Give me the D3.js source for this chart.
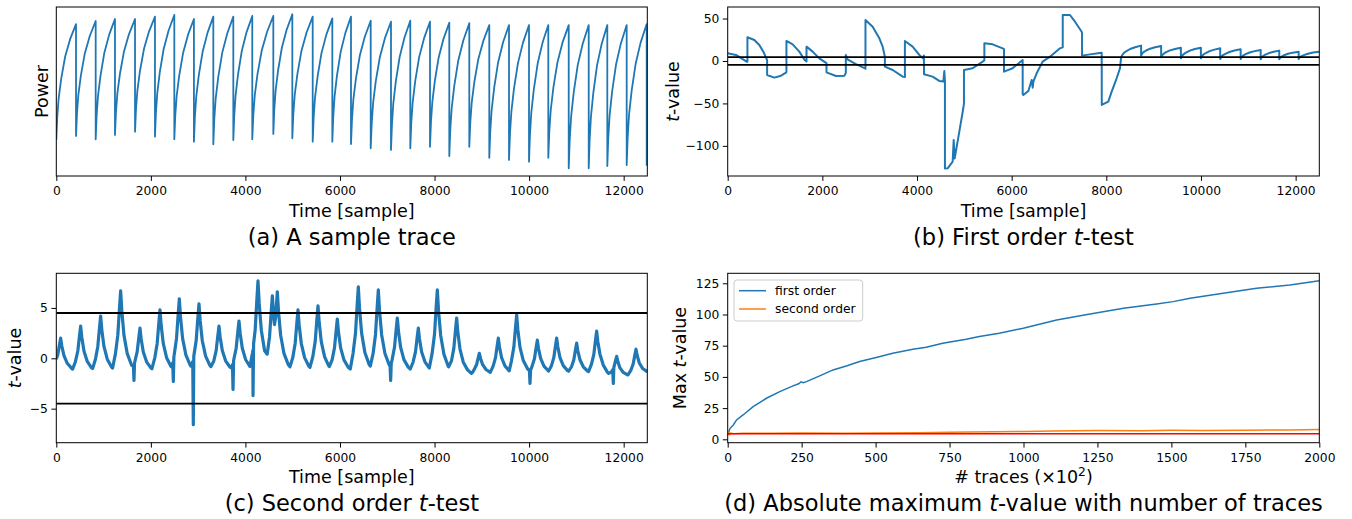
<!DOCTYPE html>
<html>
<head>
<meta charset="utf-8">
<script src="https://cdn.jsdelivr.net/npm/d3@7"></script>
<style>
  body { margin: 0; background: #fff; }
  svg { display: block; font-family: 'DejaVu Sans', sans-serif; }
</style>
</head>
<body>
<svg id="fig" width="1352" height="519"></svg>
<script>
const blue = '#1f77b4'
const orange = '#ff7f0e'

// (a) sample trace: drop times, value just before each drop, value just after
const traceStart = 21.3
const traceDrops = [417, 833, 1241, 1665, 2087, 2496, 2911, 3321, 3744, 4145, 4590, 4992, 5423, 5838, 6233,
  6650, 7079, 7487, 7904, 8312, 8735, 9158, 9575, 9998, 10406, 10838, 11261, 11654, 12064, 12487]
const tracePeaks = [89.9, 91.7, 92.9, 92.9, 94.3, 95.3, 92.9, 94.3, 94.3, 94.7, 94.7, 95.7, 94.3, 93.3, 94.3,
  91.9, 91.3, 91.9, 91.3, 90.7, 90.4, 89.3, 89.3, 89.3, 89.3, 89.3, 89.3, 89.3, 89.3, 89.9]
const traceTroughs = [23.7, 21.7, 24.3, 26.2, 23.3, 21.7, 20.3, 18.8, 21.3, 21.7, 24.9, 22.3, 20.3, 20.3, 18.9,
  16.4, 15.4, 16.4, 17.3, 11.8, 17.3, 10.8, 9.5, 8.5, 10.8, 4.6, 4.6, 5.9, 6.5, 6.1]
const riseFrac = [0, 0.05, 0.12, 0.25, 0.45, 0.7, 1]
const riseLevel = [0, 0.2, 0.36, 0.53, 0.72, 0.87, 1]

// (b) first order t-test
const firstOrderPts = [
  [0, 9], [175, 7.1], [400, -0.8], [417, -1], [417, 27.9], [563, 24.7], [668, 18.8], [753, 11], [810, 3.9],
  [833, 1], [833, -16.5], [985, -19.6], [1126, -17.3], [1232, -13.7], [1241, -13], [1241, 23.6], [1373, 19.6],
  [1513, 11], [1626, 1.2], [1665, -0.5], [1665, 16.9], [1795, 11], [1936, 3.1], [2063, -1.6], [2087, -2.5],
  [2087, -13.4], [2288, -17.7], [2464, -17.3], [2496, -14], [2496, 7.1], [2530, 2], [2700, -3.5], [2900, -8.6],
  [2911, -9], [2911, 48.3], [3063, 40.4], [3204, 26.7], [3274, 16.9], [3321, 5], [3321, -6.7], [3486, -10.6],
  [3698, -18.4], [3744, -19], [3744, 23.6], [3907, 16.9], [4048, 7.1], [4140, 2.5], [4145, 6.5], [4148, -15.7],
  [4330, -18.4], [4471, -23.5], [4556, -24.3], [4577, -11.8], [4590, -24], [4590, -126.6], [4647, -126.4],
  [4753, -118.5], [4775, -93], [4795, -115], [4894, -83.2], [4978, -55.7], [4992, -50], [4992, -10.6],
  [5175, -8.6], [5387, -0.8], [5423, 1], [5423, 20.8], [5598, 19.6], [5810, 14.9], [5838, 14], [5838, -12.6],
  [6020, -8.6], [6232, 1.2], [6233, -39.3], [6247, -40], [6352, -35.3], [6423, -22.4], [6444, -31.4],
  [6460, -24], [6528, -14.5], [6655, -0.8], [6810, 5.1], [7021, 14.9], [7079, 16], [7079, 54.2], [7232, 54.2],
  [7338, 46.3], [7479, 34.5], [7487, 33], [7487, 6.3], [7655, 7.8], [7902, 9.8], [7904, -51.8], [8042, -47.9],
  [8113, -36.1], [8218, -20.4], [8289, -8.6], [8312, 3.9]
]
const sawDropsB = [8735, 9158, 9575, 9998, 10406, 10838, 11261, 11654, 12064, 12500]
const sawPeaksB = [18.1, 17.7, 15.7, 15.7, 14.9, 13.8, 13.0, 12.2, 11.0, 11.0]
const sawTroughsB = [6.3, 4.3, 3.1, 3.1, 2.4, 2.4, 2.0, 2.0, 2.4]

// (c) second order t-test
const secondBaseT = [0, 400, 2000, 4000, 6000, 8000, 8600, 10000, 11500, 11850, 12500]
const secondBaseV = [-1.0, -1.3, -1.3, -1.2, -1.3, -1.3, -1.6, -1.5, -1.5, -2.0, -1.5]
const secondPeakT = [92, 515, 938, 1361, 1770, 2193, 2602, 3018, 3441, 3864, 4266, 4570, 4675, 5112, 5535, 5944,
  6388, 6811, 7213, 7657, 8059, 8468, 8948, 9349, 9737, 10174, 10583, 11006, 11429, 11852, 12261]
const secondPeakV = [2.0, 3.2, 4.2, 6.7, 3.0, 4.8, 5.9, 5.4, 3.2, 3.7, 7.7, 6.2, 6.6, 4.8, 5.2, 3.9,
  7.1, 6.8, 4.0, 3.0, 6.8, 4.0, 0.5, 2.0, 4.3, 1.8, 2.0, 1.5, 2.7, 0.2, 0.9]
const secondDipT = [1643, 2475, 2898, 3738, 4161, 7072, 10019, 11781]
const secondDipV = [-2.2, -2.3, -6.6, -3.1, -3.7, -2.2, -2.5, -2.5]
// shape of one bump (samples from peak -> fraction of height)
const peakDt = [-170, -110, -60, -25, 0, 25, 70, 140, 230, 330]
const peakLevel = [0, 0.22, 0.45, 0.78, 1, 0.75, 0.45, 0.22, 0.08, 0]
const threshold = 4.5

// (d) max t-value vs number of traces
const maxFirstT = [0, 2, 8, 19, 30, 52, 86, 131, 176, 221, 240, 248, 255, 266, 311, 356, 401, 446, 502, 558, 626,
  671, 727, 806, 851, 918, 999, 1112, 1225, 1338, 1450, 1506, 1563, 1675, 1788, 1901, 2000]
const maxFirstV = [3.5, 4.8, 8.8, 11.5, 15.5, 19.5, 26.2, 32.9, 38.2, 42.8, 44.5, 46, 45.3, 46.2, 50.8, 55.6, 58.8,
  62.3, 65.5, 68.9, 72.1, 73.7, 76.9, 80.1, 82.3, 84.9, 89.0, 95.6, 100.4, 105.0, 108.4, 110.3, 113, 117, 121,
  123.6, 127.1]
const maxSecondT = [0, 3, 6, 10, 20, 50, 150, 250, 400, 500, 650, 750, 900, 1000, 1100, 1250, 1400, 1500, 1600,
  1750, 1900, 2000]
const maxSecondV = [3.2, 5.5, 3.8, 4.9, 4.4, 4.8, 4.9, 5.0, 4.9, 5.0, 5.2, 5.6, 6.0, 6.3, 6.6, 7.0, 6.9, 7.2, 7.0,
  7.3, 7.5, 7.8]

const svg = d3.select('#fig')
const minus = d => d < 0 ? '\u2212' + Math.abs(d) : String(d)

function panel(id, x, y, xTicks, yTicks) {
  const [x0, x1] = x.range()
  const [y0, y1] = [y.range()[1], y.range()[0]]
  const g = svg.append('g').attr('id', id)

  g.append('clipPath').attr('id', 'clip-' + id)
    .append('rect')
    .attr('x', x0).attr('y', y0)
    .attr('width', x1 - x0).attr('height', y1 - y0)

  const xAxis = g.append('g')
    .attr('transform', `translate(0,${y1})`)
    .call(d3.axisBottom(x).tickValues(xTicks).tickFormat(minus).tickSize(4.9).tickPadding(5.4).tickSizeOuter(0))
  xAxis.select('.domain').remove()

  if (yTicks) {
    const yAxis = g.append('g')
      .attr('transform', `translate(${x0},0)`)
      .call(d3.axisLeft(y).tickValues(yTicks).tickFormat(minus).tickSize(4.9).tickPadding(3.5).tickSizeOuter(0))
    yAxis.select('.domain').remove()
  }
  g.selectAll('.tick text').style('font-size', '12.3px').style('font-family', 'DejaVu Sans').attr('fill', '#000')
  g.selectAll('.tick line').attr('stroke', '#000').attr('stroke-width', 1)

  const plot = g.append('g').attr('clip-path', `url(#clip-${id})`)
  return { g, plot, x0, x1, y0, y1 }
}

function frame(p) {
  p.g.append('rect')
    .attr('x', p.x0).attr('y', p.y0)
    .attr('width', p.x1 - p.x0).attr('height', p.y1 - p.y0)
    .attr('fill', 'none').attr('stroke', '#000').attr('stroke-width', 1)
}

function label(text, x, y, size, rotate) {
  const t = svg.append('text')
    .attr('text-anchor', 'middle')
    .attr('transform', rotate ? `translate(${x},${y}) rotate(-90)` : `translate(${x},${y})`)
    .style('font-size', size + 'px')
    .attr('fill', '#000')
  text.forEach(part => {
    const s = t.append('tspan').text(part.t)
    if (part.i) s.style('font-style', 'italic')
    if (part.sup) s.attr('baseline-shift', 'super').style('font-size', (size * 0.7) + 'px')
  })
  return t
}

function risePoints(pts, t0, v0, t1, v1) {
  riseFrac.forEach((f, k) => pts.push([t0 + f * (t1 - t0), v0 + riseLevel[k] * (v1 - v0)]))
}

// ---------- (a) ----------
const xA = d3.scaleLinear([0, 12500], [56.3, 647.3])
const yA = d3.scaleLinear([0, 100], [176, 7])
const pA = panel('a', xA, yA, d3.range(0, 12001, 2000), null)
const tracePts = []
let t0 = 0, v0 = traceStart
traceDrops.forEach((td, i) => {
  risePoints(tracePts, t0, v0, td, tracePeaks[i])
  tracePts.push([td, traceTroughs[i]])
  t0 = td
  v0 = traceTroughs[i]
})
pA.plot.append('path')
  .datum(tracePts)
  .attr('d', d3.line().x(d => xA(d[0])).y(d => yA(d[1])))
  .attr('fill', 'none').attr('stroke', blue).attr('stroke-width', 1.8).attr('stroke-linejoin', 'round')
frame(pA)

// ---------- (b) ----------
const xB = d3.scaleLinear([0, 12500], [727.7, 1319.3])
const yB = d3.scaleLinear([-135.5, 63.6], [176, 7])
const pB = panel('b', xB, yB, d3.range(0, 12001, 2000), [50, 0, -50, -100])
const firstPts = firstOrderPts.slice()
let tb = 8312, vb = 3.9
sawDropsB.forEach((td, i) => {
  risePoints(firstPts, tb, vb, td, sawPeaksB[i])
  if (i < sawTroughsB.length) {
    firstPts.push([td, sawTroughsB[i]])
    tb = td
    vb = sawTroughsB[i]
  }
})
pB.plot.append('path')
  .datum(firstPts)
  .attr('d', d3.line().x(d => xB(d[0])).y(d => yB(d[1])))
  .attr('fill', 'none').attr('stroke', blue).attr('stroke-width', 2).attr('stroke-linejoin', 'round')
pB.plot.selectAll('.thr')
  .data([threshold, -threshold])
  .enter()
  .append('line')
  .attr('x1', pB.x0).attr('x2', pB.x1)
  .attr('y1', d => yB(d)).attr('y2', d => yB(d))
  .attr('stroke', '#000').attr('stroke-width', 1.8)
frame(pB)

// ---------- (c) ----------
const xC = d3.scaleLinear([0, 12500], [56.3, 647.3])
const yC = d3.scaleLinear([-8.38, 8.44], [442.7, 273.3])
const pC = panel('c', xC, yC, d3.range(0, 12001, 2000), [5, 0, -5])
const base = d3.scaleLinear(secondBaseT, secondBaseV)
const shape = d3.scaleLinear(peakDt, peakLevel).clamp(true)
let gridT = secondBaseT.slice()
secondPeakT.forEach(tp => peakDt.forEach(dt => gridT.push(tp + dt)))
secondDipT.forEach(td => gridT.push(td - 12, td + 12))
gridT = Array.from(new Set(gridT.filter(t => t >= 0 && t <= 12500))).sort((a, b) => a - b)
const secondPts = gridT.map(t => {
  const b = base(t)
  const bump = d3.max(secondPeakT, (tp, i) => shape(t - tp) * (secondPeakV[i] - base(tp)))
  return [t, b + Math.max(0, bump)]
})
secondDipT.forEach((td, i) => secondPts.push([td, secondDipV[i]]))
secondPts.sort((a, b) => a[0] - b[0])
pC.plot.append('path')
  .datum(secondPts)
  .attr('d', d3.line().x(d => xC(d[0])).y(d => yC(d[1])))
  .attr('fill', 'none').attr('stroke', blue).attr('stroke-width', 3.2).attr('stroke-linejoin', 'round')
pC.plot.selectAll('.thr')
  .data([threshold, -threshold])
  .enter()
  .append('line')
  .attr('x1', pC.x0).attr('x2', pC.x1)
  .attr('y1', d => yC(d)).attr('y2', d => yC(d))
  .attr('stroke', '#000').attr('stroke-width', 1.8)
frame(pC)

// ---------- (d) ----------
const xD = d3.scaleLinear([0, 2000], [727.7, 1319.3])
const yD = d3.scaleLinear([-2.72, 133], [442.7, 273.3])
const pD = panel('d', xD, yD, d3.range(0, 2001, 250), d3.range(0, 126, 25))
const lineD = d3.line().x(d => xD(d[0])).y(d => yD(d[1]))
pD.plot.append('path')
  .datum(d3.zip(maxFirstT, maxFirstV))
  .attr('d', lineD)
  .attr('fill', 'none').attr('stroke', blue).attr('stroke-width', 1.5)
pD.plot.append('path')
  .datum(d3.zip(maxSecondT, maxSecondV))
  .attr('d', lineD)
  .attr('fill', 'none').attr('stroke', orange).attr('stroke-width', 1.5)
pD.plot.append('path')
  .datum([[0, threshold], [2000, threshold]])
  .attr('d', lineD)
  .attr('fill', 'none').attr('stroke', 'red').attr('stroke-width', 1.5)
frame(pD)

// legend
const legend = svg.append('g').attr('id', 'legend')
legend.append('rect')
  .attr('x', 734).attr('y', 280).attr('width', 128.7).attr('height', 41).attr('rx', 3)
  .attr('fill', '#fff').attr('fill-opacity', 0.8).attr('stroke', '#ccc').attr('stroke-width', 1)
const legendItems = legend.selectAll('.item')
  .data([['first order', blue], ['second order', orange]])
  .enter()
  .append('g')
  .attr('transform', (d, i) => `translate(739,${290.7 + i * 18.3})`)
legendItems.append('line')
  .attr('x1', 0).attr('x2', 27).attr('stroke', d => d[1]).attr('stroke-width', 1.5)
legendItems.append('text')
  .text(d => d[0])
  .attr('x', 36).attr('y', 4.4)
  .style('font-size', '12.3px').attr('fill', '#000')

// axis labels
const cA = (56.3 + 647.3) / 2
const cB = (727.7 + 1319.3) / 2
label([{ t: 'Time [sample]' }], cA, 216.7, 17.5)
label([{ t: 'Time [sample]' }], cB, 216.7, 17.5)
label([{ t: 'Time [sample]' }], cA, 483, 17.5)
label([{ t: '# traces (\u00d710' }, { t: '2', sup: true }, { t: ')' }], cB, 483, 17.5)
label([{ t: 'Power' }], 48, 91.5, 17.5, true)
label([{ t: 't', i: true }, { t: '-value' }], 679, 91.5, 17.5, true)
label([{ t: 't', i: true }, { t: '-value' }], 20.5, 358, 17.5, true)
label([{ t: 'Max ' }, { t: 't', i: true }, { t: '-value' }], 686, 358, 17.5, true)

// captions
label([{ t: '(a) A sample trace' }], cA, 245, 22.5)
label([{ t: '(b) First order ' }, { t: 't', i: true }, { t: '-test' }], cB, 245, 22.5)
label([{ t: '(c) Second order ' }, { t: 't', i: true }, { t: '-test' }], cA, 511.3, 22.5)
label([{ t: '(d) Absolute maximum ' }, { t: 't', i: true }, { t: '-value with number of traces' }], cB, 511.3, 22.5)
</script>
</body>
</html>
